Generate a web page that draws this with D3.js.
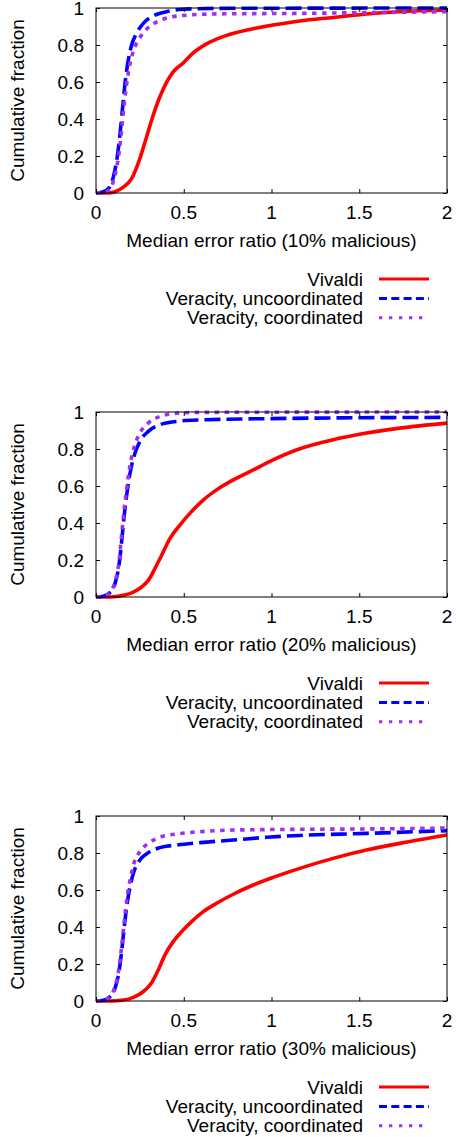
<!DOCTYPE html>
<html>
<head>
<meta charset="utf-8">
<script src="https://cdn.jsdelivr.net/npm/d3@7"></script>
<style>
  body { margin: 0; background: #fff; }
  svg { display: block; font-family: "Liberation Sans", Arial, Helvetica, sans-serif; }
</style>
</head>
<body>
<svg id="chart" width="456" height="1137"></svg>
<script>
// tick values shared by all three panels
const xTicks = [0, 0.5, 1, 1.5, 2]
const yTicks = [0, 0.2, 0.4, 0.6, 0.8, 1]
const seriesNames = ['Vivaldi', 'Veracity, uncoordinated', 'Veracity, coordinated']
const maliciousShare = ['10%', '20%', '30%']

// [median error ratio, cumulative fraction]
const vivaldi10 = [[0,0],[0.061,0],[0.108,0.007],[0.156,0.032],[0.203,0.078],[0.25,0.186],[0.288,0.303],[0.326,0.42],[0.364,0.52],[0.402,0.598],[0.44,0.655],[0.497,0.703],[0.554,0.757],[0.63,0.806],[0.744,0.852],[0.877,0.884],[1.009,0.908],[1.161,0.93],[1.351,0.949],[1.541,0.968],[1.731,0.98],[2,0.989]]
const uncoord10 = [[0,0],[0.032,0.004],[0.07,0.023],[0.099,0.087],[0.121,0.195],[0.137,0.32],[0.152,0.466],[0.165,0.59],[0.184,0.718],[0.203,0.8],[0.231,0.863],[0.27,0.917],[0.326,0.957],[0.402,0.98],[0.497,0.993],[0.687,0.998],[2,1]]
const coord10 = [[0,0],[0.042,0.002],[0.08,0.023],[0.108,0.096],[0.131,0.213],[0.146,0.34],[0.161,0.484],[0.175,0.592],[0.194,0.7],[0.222,0.79],[0.26,0.854],[0.317,0.908],[0.383,0.939],[0.478,0.958],[0.687,0.968],[1.161,0.971],[1.541,0.975],[2,0.98]]

const vivaldi20 = [[0,0],[0.08,0],[0.156,0.009],[0.213,0.027],[0.26,0.054],[0.298,0.09],[0.336,0.154],[0.374,0.226],[0.421,0.316],[0.478,0.389],[0.535,0.452],[0.611,0.524],[0.687,0.579],[0.782,0.633],[0.896,0.687],[1.009,0.741],[1.161,0.801],[1.351,0.85],[1.541,0.886],[1.731,0.913],[2,0.94]]
const uncoord20 = [[0,0],[0.042,0.004],[0.08,0.024],[0.108,0.072],[0.131,0.172],[0.146,0.298],[0.161,0.443],[0.175,0.552],[0.194,0.669],[0.216,0.759],[0.25,0.841],[0.298,0.895],[0.364,0.931],[0.459,0.949],[0.592,0.957],[0.972,0.964],[2,0.971]]
const coord20 = [[0,0],[0.042,0.004],[0.08,0.027],[0.108,0.081],[0.131,0.19],[0.146,0.335],[0.161,0.479],[0.175,0.588],[0.194,0.714],[0.216,0.805],[0.25,0.886],[0.298,0.94],[0.364,0.976],[0.459,0.993],[0.592,0.998],[2,1]]

const vivaldi30 = [[0,0],[0.08,0],[0.156,0.005],[0.213,0.02],[0.269,0.05],[0.317,0.099],[0.355,0.168],[0.393,0.249],[0.44,0.321],[0.488,0.375],[0.545,0.429],[0.611,0.483],[0.687,0.528],[0.782,0.577],[0.896,0.627],[1.009,0.668],[1.161,0.717],[1.351,0.771],[1.541,0.816],[1.731,0.852],[2,0.897]]
const uncoord30 = [[0,0],[0.042,0.004],[0.08,0.023],[0.108,0.068],[0.131,0.159],[0.146,0.267],[0.161,0.402],[0.175,0.51],[0.194,0.618],[0.216,0.699],[0.25,0.762],[0.298,0.802],[0.364,0.829],[0.459,0.843],[0.592,0.856],[0.782,0.87],[0.972,0.885],[1.161,0.895],[1.541,0.906],[2,0.921]]
const coord30 = [[0,0],[0.042,0.004],[0.08,0.027],[0.108,0.077],[0.131,0.177],[0.146,0.294],[0.161,0.429],[0.175,0.546],[0.194,0.654],[0.216,0.744],[0.25,0.807],[0.298,0.852],[0.364,0.885],[0.459,0.903],[0.592,0.915],[0.782,0.924],[1.161,0.928],[1.541,0.93],[2,0.935]]

const panelData = [
  [vivaldi10, uncoord10, coord10],
  [vivaldi20, uncoord20, coord20],
  [vivaldi30, uncoord30, coord30]
]

// line styles, in series order
const styles = [
  { color: '#ff0000', dash: null, legendDash: null },
  { color: '#0000ff', dash: '16,6', legendDash: '8,4.3' },
  { color: '#a030f0', dash: '4.5,5.5', legendDash: '3.3,6.7' }
]

const fontSize = 19
const plotLeft = 96, plotRight = 447, plotH = 185
const panelTop = [8, 412, 816]

const svg = d3.select('#chart')

const x = d3.scaleLinear().domain([0, 2]).range([plotLeft, plotRight])

panelData.forEach((series, p) => {
  const top = panelTop[p], bottom = top + plotH
  const y = d3.scaleLinear().domain([0, 1]).range([bottom, top])
  const g = svg.append('g')

  const line = d3.line()
    .x(d => x(d[0]))
    .y(d => y(d[1]))
    .curve(d3.curveMonotoneX)

  // curves
  series.forEach((pts, i) => {
    g.append('path')
      .attr('d', line(pts))
      .attr('fill', 'none')
      .attr('stroke', styles[i].color)
      .attr('stroke-width', 3.6)
      .attr('stroke-dasharray', styles[i].dash)
  })

  // mirrored inward ticks, gnuplot style
  const tickLen = 4
  const axes = [
    d3.axisBottom(x).tickValues(xTicks).tickSize(-tickLen).tickFormat(''),
    d3.axisTop(x).tickValues(xTicks).tickSize(-tickLen).tickFormat(''),
    d3.axisLeft(y).tickValues(yTicks).tickSize(-tickLen).tickFormat(''),
    d3.axisRight(y).tickValues(yTicks).tickSize(-tickLen).tickFormat('')
  ]
  const shifts = [`0,${bottom}`, `0,${top}`, `${plotLeft},0`, `${plotRight},0`]
  axes.forEach((a, k) => {
    const ag = g.append('g').attr('transform', `translate(${shifts[k]})`).call(a)
    ag.select('.domain').remove()
    ag.selectAll('line').attr('stroke', '#000')
  })

  // frame
  g.append('rect')
    .attr('x', plotLeft).attr('y', top)
    .attr('width', plotRight - plotLeft).attr('height', plotH)
    .attr('fill', 'none').attr('stroke', '#000').attr('stroke-width', 1)

  // tick labels
  g.selectAll('.xl').data(xTicks).join('text')
    .attr('x', d => x(d)).attr('y', bottom + 26.3)
    .attr('text-anchor', 'middle').attr('font-size', fontSize)
    .text(d => d)
  g.selectAll('.yl').data(yTicks).join('text')
    .attr('x', 84).attr('y', d => y(d) + 7)
    .attr('text-anchor', 'end').attr('font-size', fontSize)
    .text(d => d)

  // axis titles
  g.append('text')
    .attr('x', (plotLeft + plotRight) / 2).attr('y', bottom + 54)
    .attr('text-anchor', 'middle').attr('font-size', fontSize)
    .text(`Median error ratio (${maliciousShare[p]} malicious)`)
  g.append('text')
    .attr('transform', `translate(17,${(top + bottom) / 2}) rotate(-90)`)
    .attr('dy', '0.35em')
    .attr('text-anchor', 'middle').attr('font-size', fontSize)
    .text('Cumulative fraction')

  // legend
  const legTop = top + 271
  seriesNames.forEach((name, i) => {
    const ly = legTop + i * 19.4
    g.append('text')
      .attr('x', 363).attr('y', ly).attr('dy', '0.35em')
      .attr('text-anchor', 'end').attr('font-size', fontSize)
      .text(name)
    g.append('line')
      .attr('x1', 379).attr('x2', 429).attr('y1', ly).attr('y2', ly)
      .attr('stroke', styles[i].color).attr('stroke-width', 3)
      .attr('stroke-dasharray', styles[i].legendDash)
  })
})
</script>
</body>
</html>
